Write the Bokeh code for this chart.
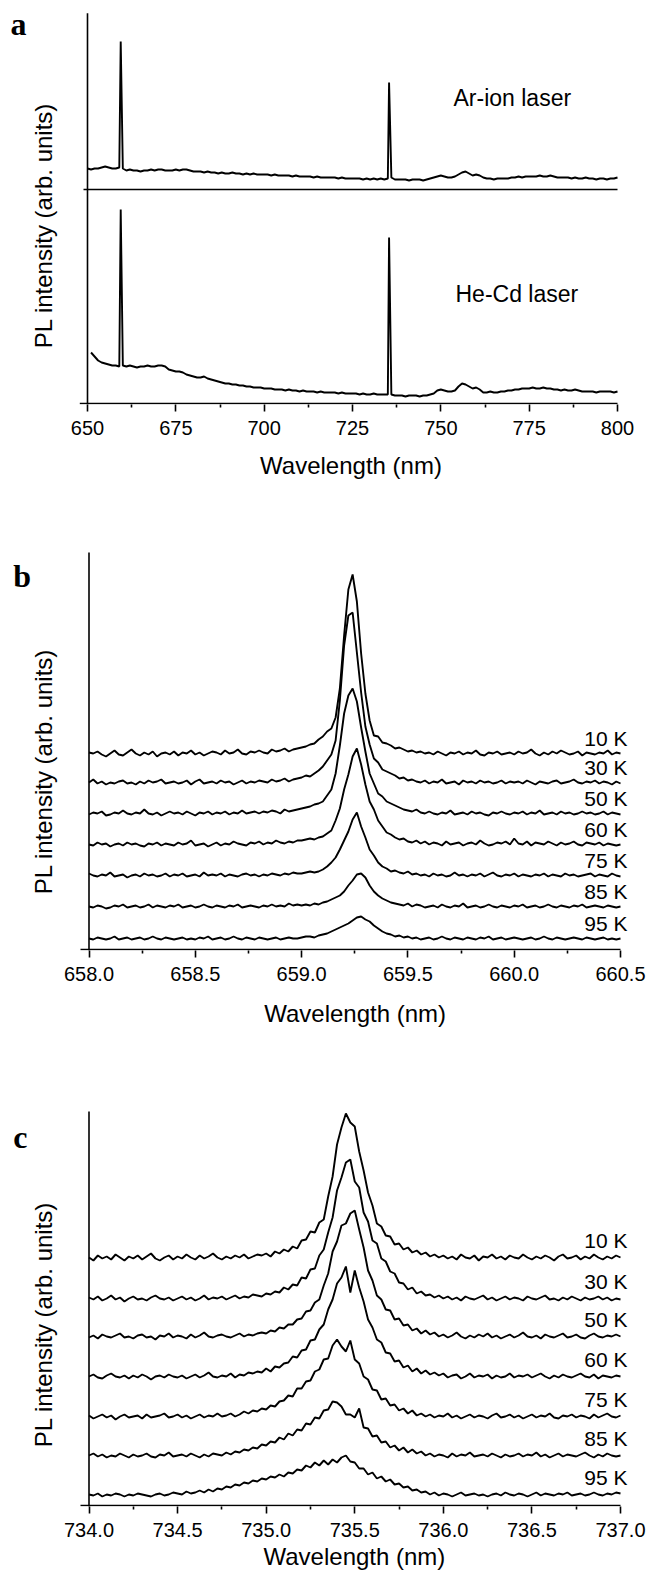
import numpy as np
from bokeh.plotting import figure
from bokeh.models import Range1d, FixedTicker, PrintfTickFormatter, Label, LabelSet, ColumnDataSource, Title
from bokeh.layouts import column
from bokeh.embed import file_html
from bokeh.resources import INLINE
from bokeh.core.properties import value

# ---------------- data: panel a ----------------
wl_a = [650 + i for i in range(10)] + [659.4] + [660 + i for i in range(76)] + [735.35] + [736 + i for i in range(65)]
ar_ion = [235, 234, 235, 235, 236, 237, 236, 235, 235, 236,
          362,
          235, 233, 234, 233, 233, 232, 233, 233, 234, 233,
          234, 234, 233, 233, 233, 234, 233, 234, 234, 233,
          232, 232, 232, 231, 232, 231, 231, 230, 231, 230,
          230, 231, 230, 230, 229, 230, 229, 230, 229, 229,
          229, 229, 228, 229, 228, 228, 228, 228, 227, 228,
          227, 227, 227, 227, 226, 227, 226, 226, 226, 226,
          226, 225, 226, 225, 225, 225, 225, 225, 224, 225,
          224, 225, 224, 225, 224, 225,
          321,
          226, 224, 224, 224, 224, 223, 224, 224, 224, 223,
          224, 225, 226, 227, 228, 227, 226, 226, 227, 229,
          231, 232, 230, 228, 229, 228, 226, 225, 225, 224,
          225, 225, 225, 225, 226, 226, 227, 226, 227, 227,
          227, 227, 228, 227, 227, 228, 227, 226, 226, 226,
          226, 225, 226, 225, 225, 226, 225, 225, 224, 225,
          225, 224, 225, 225, 226]
he_cd = [51, 47, 43, 41, 40, 39, 38, 38, 37,
         194,
         38, 37, 38, 37, 36, 37, 37, 38, 37, 37,
         38, 38, 37, 34, 33, 32, 32, 31, 29, 28,
         27, 26, 26, 27, 25, 24, 23, 22, 21, 20,
         20, 19, 19, 18, 18, 17, 17, 16, 16, 16,
         15, 15, 15, 14, 14, 14, 13, 14, 13, 13,
         12, 13, 12, 12, 12, 11, 12, 11, 11, 11,
         11, 10, 11, 10, 10, 10, 10, 9, 10, 9,
         9, 10, 9, 9, 9, 9,
         166,
         9, 8, 8, 8, 7, 8, 8, 8, 7, 8,
         8, 9, 10, 13, 14, 13, 12, 12, 13, 17,
         20, 19, 17, 15, 16, 14, 11, 11, 12, 11,
         11, 12, 12, 13, 13, 14, 14, 15, 15, 15,
         16, 15, 15, 16, 15, 15, 14, 14, 13, 14,
         13, 13, 14, 13, 12, 12, 12, 12, 11, 12,
         12, 12, 12, 11, 12]
a_ticks = [650, 675, 700, 725, 750, 775, 800]
a_minor = [662.5, 687.5, 712.5, 737.5, 762.5, 787.5]

# ---------------- data: panel b ----------------
temps = ["10 K", "30 K", "50 K", "60 K", "75 K", "85 K", "95 K"]
wl_b = [round(658.0 + 0.02 * i, 2) for i in range(126)]
b_10K = [2, 1, 3, 0, -2, 1, 4, 0, -1, 2,
         5, 1, -1, 2, 0, 3, -2, 1, 2, 0,
         3, -1, 2, 1, 4, 0, 2, -1, 1, 3,
         2, 0, 4, 1, 2, 5, 1, 0, 3, 2,
         4, 2, 1, 5, 3, 4, 6, 3, 5, 6,
         7, 8, 10, 11, 15, 18, 23, 26, 37, 66,
         119, 165, 180, 153, 101, 61, 34, 19, 18, 12,
         11, 9, 6, 7, 5, 3, 4, 2, 3, 1,
         2, 0, 3, 1, -1, 2, 1, 3, 0, 2,
         1, 4, 0, -1, 2, 1, 3, 0, 1, 2,
         0, 3, 1, 2, 5, 1, -1, 2, 0, 3,
         1, 4, 2, 0, 1, 3, -1, 2, 1, 0,
         2, 1, 4, 0, 2, 1]
b_30K = [1, 4, 0, 2, -1, 1, 0, 2, 3, 0,
         1, -1, 2, 0, 3, 1, 2, 4, 0, 1,
         2, 0, 1, 3, -1, 2, 4, 0, 1, 2,
         0, 3, 1, 2, -1, 1, 3, 0, 2, 1,
         3, 2, 1, 4, 2, 3, 5, 2, 4, 5,
         6, 8, 7, 10, 13, 17, 23, 29, 43, 83,
         138, 168, 171, 131, 91, 57, 39, 25, 21, 14,
         12, 10, 8, 5, 6, 3, 4, 2, 1, 3,
         0, 2, 1, 4, 0, 1, 2, -1, 3, 1,
         2, 0, 3, 1, 2, 0, 1, 3, 0, 2,
         1, 2, 0, 3, 1, -1, 2, 1, 0, 2,
         3, 0, 1, 2, 4, 1, 0, 2, 1, 3,
         0, 2, 1, -1, 2, 0]
b_50K = [0, 2, 1, 3, -1, 0, 2, 1, 4, 1,
         0, 2, 1, 5, 1, 0, 2, -1, 1, 3,
         1, 2, 0, 3, 1, -1, 2, 1, 3, 0,
         2, 1, 3, 0, 2, 1, 4, 1, 2, 3,
         1, 3, 2, 4, 3, 1, 5, 3, 4, 5,
         6, 7, 8, 10, 11, 13, 19, 25, 41, 69,
         101, 119, 126, 113, 87, 63, 41, 31, 21, 18,
         13, 11, 9, 7, 5, 4, 3, 5, 2, 1,
         3, 1, 0, 2, 1, 4, 0, 1, 2, 0,
         3, 1, 2, 0, -1, 2, 1, 3, 1, 0,
         2, 1, 3, 0, 2, 1, 4, 0, 1, 2,
         0, 3, 1, 2, 0, 1, 3, 1, 2, 0,
         1, 3, 0, 2, 1, 0]
b_60K = [1, 0, 3, 1, 2, -1, 1, 2, 0, 3,
         1, 2, 0, -1, 2, 1, 3, 0, 2, 1,
         0, 3, 1, 2, 5, 0, 1, 2, -1, 1,
         3, 0, 2, 1, 4, 2, 1, 0, 3, 2,
         4, 1, 3, 2, 5, 3, 2, 4, 3, 5,
         5, 6, 7, 6, 8, 9, 12, 15, 25, 37,
         56, 71, 89, 97, 81, 61, 44, 36, 25, 19,
         13, 11, 8, 6, 7, 4, 3, 5, 2, 4,
         1, 3, 2, 0, 4, 1, 2, 3, 0, 2,
         3, 1, 5, 2, 0, 1, 3, 2, 4, 1,
         7, 2, 1, 4, 0, 3, 2, 1, 4, 2,
         0, 3, 1, 2, 4, 1, 0, 3, 2, 1,
         3, 0, 2, 1, 0, 1]
b_75K = [3, 1, 0, 2, 1, 4, 0, 1, 2, -1,
         1, 2, 0, 3, 1, 2, 0, 1, 3, 0,
         2, 1, 3, 0, 1, 2, 0, 4, 1, 2,
         1, 3, 0, 2, 1, 0, 2, 3, 1, 2,
         0, 2, 1, 3, 2, 1, 3, 2, 4, 3,
         3, 4, 5, 4, 5, 7, 10, 14, 19, 27,
         36, 45, 57, 64, 50, 39, 27, 21, 14, 10,
         8, 5, 6, 4, 3, 5, 2, 3, 1, 2,
         0, 3, 1, 2, 0, 1, 4, 1, 2, 0,
         2, 1, 3, 0, 2, 4, 1, 0, 2, 1,
         3, 0, 2, 1, 0, 2, 1, 3, 0, 2,
         1, 0, 3, 1, 2, 0, 1, 2, 3, 0,
         2, 1, 0, 3, 1, 0]
b_85K = [1, 0, 2, 1, -1, 0, 2, 1, 3, 0,
         1, 2, 0, 1, 3, 0, 2, 1, 0, 2,
         1, 3, 0, 1, 2, 0, 1, 3, 1, 0,
         2, 1, 0, 2, 1, 3, 0, 1, 2, 1,
         0, 2, 1, 3, 1, 2, 1, 4, 2, 3,
         2, 3, 2, 4, 3, 5, 6, 8, 10, 12,
         16, 22, 27, 33, 34, 30, 22, 16, 12, 9,
         7, 5, 4, 3, 2, 4, 1, 3, 2, 0,
         1, 2, 0, 3, 1, 0, 2, 1, 4, 0,
         1, 2, 0, 1, 3, 1, 0, 2, 1, 0,
         2, 1, 3, 0, 1, 2, 0, 1, 3, 1,
         0, 2, 1, 0, 2, 1, 3, 0, 1, 2,
         1, 0, 2, 1, 0, 1]
b_95K = [1, 0, 2, 1, 0, 1, 3, 0, 1, 2,
         0, 1, 2, 0, 1, 3, 1, 0, 2, 1,
         0, 1, 2, 0, 1, 0, 2, 1, 3, 0,
         1, 2, 0, 1, 3, 1, 0, 2, 1, 0,
         2, 1, 0, 1, 2, 0, 1, 2, 1, 1,
         2, 3, 3, 2, 4, 5, 6, 8, 10, 12,
         14, 16, 19, 22, 23, 20, 18, 14, 11, 8,
         6, 5, 3, 4, 2, 3, 1, 2, 0, 1,
         2, 0, 1, 3, 1, 0, 2, 1, 0, 2,
         1, 0, 2, 1, 3, 0, 1, 2, 0, 1,
         2, 1, 0, 1, 2, 0, 1, 3, 1, 0,
         2, 1, 0, 1, 2, 1, 0, 2, 1, 0,
         1, 2, 0, 1, 0, 1]
b_offsets = [195, 166, 135, 104, 73, 42, 10]
b_ticks = [658.0, 658.5, 659.0, 659.5, 660.0, 660.5]
b_minor = [658.25, 658.75, 659.25, 659.75, 660.25]

# ---------------- data: panel c ----------------
wl_c = [round(734.0 + 0.025 * i, 3) for i in range(121)]
c_10K = [1, -2, 3, 0, 2, -1, 4, 1, -2, 2,
         0, 3, -1, 2, 5, 0, -2, 1, 3, -1,
         2, 0, 4, 1, -1, 3, 0, 2, 5, 1,
         -1, 2, 0, 3, 1, 4, 0, 2, 4, 3,
         5, 2, 7, 5, 9, 7, 12, 10, 18, 19,
         27, 26, 36, 39, 62, 82, 114, 131, 145, 136,
         132, 107, 88, 66, 53, 35, 32, 23, 22, 14,
         15, 9, 11, 6, 8, 4, 6, 2, 4, 1,
         3, 0, 2, -1, 4, 1, 0, 3, -2, 2,
         1, 4, 0, 2, -1, 3, 1, 0, 4, 1,
         -1, 2, 0, 3, 1, -2, 2, 4, 0, 1,
         3, -1, 2, 0, 4, 1, -1, 2, 0, 3,
         1]
c_30K = [2, 0, 3, -1, 1, 4, 0, 2, -2, 1,
         3, 0, 1, -1, 2, 4, 1, 0, 2, -1,
         1, 3, 0, 2, -1, 1, 4, 0, 2, 1,
         3, 0, 2, 4, 1, 3, 2, 5, 4, 3,
         6, 5, 8, 7, 12, 10, 15, 14, 22, 21,
         30, 31, 44, 50, 67, 82, 109, 122, 137, 140,
         118, 112, 87, 78, 59, 56, 41, 38, 28, 26,
         17, 16, 10, 12, 6, 8, 4, 5, 2, 4,
         1, 3, 0, 2, -1, 3, 1, 0, 2, 4,
         0, 2, -1, 1, 3, 0, 2, 1, -1, 3,
         1, 0, 2, 4, 0, 1, -1, 2, 0, 3,
         1, -1, 2, 0, 1, 3, 0, 2, -1, 1,
         0]
c_50K = [0, 2, -1, 3, 1, 0, 2, 4, 0, 1,
         -1, 2, 3, 0, 1, -2, 2, 1, 4, 0,
         2, 1, -1, 3, 0, 2, 5, 1, 0, 2,
         3, 1, 0, 2, 4, 1, 3, 2, 4, 5,
         4, 7, 6, 10, 9, 13, 13, 18, 19, 26,
         27, 35, 38, 52, 64, 86, 96, 112, 114, 124,
         127, 108, 90, 67, 57, 42, 38, 28, 27, 18,
         19, 12, 13, 7, 9, 4, 7, 3, 5, 1,
         3, 0, 2, 5, 1, -1, 2, 0, 3, 1,
         4, 0, 2, -1, 1, 3, 0, 2, 5, 1,
         0, 2, -1, 3, 1, 0, 2, 4, 0, 1,
         3, 0, -1, 2, 4, 1, 0, 2, 1, 3,
         1]
c_60K = [1, 3, 0, -1, 2, 4, 1, 0, 2, -1,
         2, 0, 3, 1, -2, 1, 2, 0, 3, 1,
         0, 2, -1, 1, 3, 0, 2, 5, 1, 0,
         2, 1, 4, 0, 3, 2, 5, 4, 6, 5,
         9, 6, 11, 10, 14, 15, 21, 20, 27, 28,
         37, 38, 48, 53, 68, 78, 94, 100, 111, 85,
         107, 90, 76, 58, 50, 38, 35, 25, 24, 16,
         17, 10, 12, 6, 9, 4, 7, 3, 5, 2,
         4, 0, 2, 3, -1, 1, 4, 0, 2, 1,
         3, -1, 2, 0, 1, 4, 0, 2, 1, 3,
         0, 2, 4, 1, -1, 2, 0, 3, 1, 0,
         2, 4, 1, 0, 3, -1, 2, 1, 0, 2,
         1]
c_75K = [2, -1, 1, 3, 0, 2, -2, 1, 3, 0,
         1, 2, -1, 3, 0, 1, 2, 4, 0, 1,
         3, 0, 2, -1, 1, 3, 0, 2, 1, 4,
         1, 2, 4, 1, 3, 6, 4, 7, 6, 9,
         8, 12, 11, 16, 17, 22, 21, 29, 29, 36,
         37, 46, 48, 58, 59, 72, 78, 71, 66, 77,
         58, 54, 41, 38, 28, 27, 18, 19, 12, 13,
         7, 9, 4, 7, 2, 4, 1, 3, 0, 2,
         1, 4, 0, 2, -1, 1, 3, 0, 2, 1,
         -1, 2, 4, 0, 1, 3, 0, 2, -1, 1,
         3, 0, 2, 1, 4, 0, -1, 2, 1, 3,
         0, 2, 1, -1, 3, 0, 2, 4, 1, 0,
         2]
c_85K = [1, 3, 0, 2, -1, 1, 0, 3, 1, -1,
         2, 0, 1, 3, 0, -1, 2, 1, 4, 0,
         1, 2, 0, 3, 1, -1, 2, 0, 3, 2,
         1, 4, 2, 5, 4, 7, 6, 9, 8, 12,
         11, 15, 14, 19, 17, 23, 21, 27, 26, 33,
         32, 39, 38, 46, 47, 55, 54, 50, 42, 42,
         39, 48, 29, 28, 20, 21, 14, 15, 9, 11,
         6, 9, 4, 7, 3, 5, 1, 3, 0, 2,
         1, -1, 3, 0, 2, 1, 4, 0, 1, 2,
         0, 3, 1, -1, 2, 0, 1, 3, 0, 2,
         1, 4, 0, 2, -1, 1, 3, 0, 2, 1,
         0, 2, 4, 1, -1, 2, 0, 3, 1, 0,
         1]
c_95K = [1, 0, 2, -1, 1, 0, 2, 1, -1, 1,
         0, 2, 1, 0, -1, 1, 2, 0, 1, 3,
         2, 1, 4, 2, 3, 5, 3, 6, 4, 7,
         6, 9, 8, 11, 10, 13, 12, 15, 14, 17,
         16, 19, 18, 21, 19, 23, 22, 26, 25, 30,
         28, 33, 30, 35, 31, 36, 33, 38, 40, 34,
         33, 27, 27, 21, 23, 17, 19, 14, 16, 11,
         12, 8, 9, 5, 6, 3, 4, 1, 3, 0,
         2, 1, -1, 1, 3, 0, 1, 2, 0, 1,
         -1, 1, 2, 0, 3, 1, 0, 2, 1, -1,
         1, 3, 0, 2, 1, 0, 2, 1, 3, 0,
         1, 2, 0, 1, 3, 1, 0, 2, 1, 3,
         2]
c_offsets = [247, 206, 168, 128, 88, 49, 10]
c_ticks = [734.0, 734.5, 735.0, 735.5, 736.0, 736.5, 737.0]
c_minor = [734.25, 734.75, 735.25, 735.75, 736.25, 736.75]

# ---------------- layout geometry (page pixels) ----------------
W = 665
SANS = "Liberation Sans"
SERIF = "Liberation Serif"
LW = 1.9


class Geo:
    """Maps page pixels to data coordinates for one figure whose frame spans the full width."""

    def __init__(self, x_at_axis, px_at_axis, px_per_unit, axis_py):
        self.s = x_at_axis - px_at_axis / px_per_unit
        self.k = px_per_unit
        self.axis_py = axis_py

    def x(self, px):
        return self.s + px / self.k

    def y(self, py):
        return self.axis_py - py

    def xrange(self):
        return Range1d(self.s, self.s + W / self.k)


def make_fig(geo, height, frame_top_py, bottom_border, ticks, minor, fmt):
    p = figure(width=W, height=height, x_range=geo.xrange(),
               y_range=Range1d(-1, geo.y(frame_top_py)),
               y_axis_location=None, toolbar_location=None, output_backend="svg", title=None,
               min_border_top=0, min_border_bottom=bottom_border, min_border_left=0,
               min_border_right=0)
    p.outline_line_color = None
    p.grid.visible = False
    p.background_fill_color = "white"
    p.border_fill_color = "white"
    ax = p.xaxis[0]
    ax.ticker = FixedTicker(ticks=ticks, minor_ticks=minor)
    if fmt:
        ax.formatter = PrintfTickFormatter(format=fmt)
    ax.axis_line_color = None
    ax.major_tick_in = 0
    ax.major_tick_out = 7
    ax.minor_tick_in = 0
    ax.minor_tick_out = 3
    ax.major_tick_line_width = 1.6
    ax.minor_tick_line_width = 1.6
    ax.major_tick_line_color = "black"
    ax.minor_tick_line_color = "black"
    ax.major_label_text_font = SANS
    ax.major_label_text_font_size = "20px"
    ax.major_label_text_color = "black"
    ax.major_label_standoff = 9
    return p


def add_text(p, x, y, text, size, font=SANS, style="normal", angle=0.0,
             align="left", baseline="middle"):
    p.add_layout(Label(x=x, y=y, text=text, text_font=font, text_font_size=size,
                       text_font_style=style, angle=angle, text_align=align,
                       text_baseline=baseline, text_color="black"))


# figure a: page y 0..448, frame 0..404 (x axis at py 403)
ga = Geo(650, 87, 530 / 150, 403)
# figure b: page y 448..994, frame 448..950 (x axis at py 949)
gb = Geo(658.0, 88.5, 531.5 / 2.5, 949)
# figure c: page y 994..1578, frame 994..1506 (x axis at py 1505)
gc = Geo(734.0, 88.5, 531.5 / 3.0, 1505)

# ---------------- panel a ----------------
pa = make_fig(ga, 448, 0, 44, a_ticks, a_minor, None)
pa.segment(x0=[650], y0=[-1], x1=[650], y1=[ga.y(12.7)], line_color="black", line_width=1.6)
pa.segment(x0=[ga.x(79.3)], y0=[0], x1=[800], y1=[0], line_color="black", line_width=1.6)
pa.segment(x0=[ga.x(83)], y0=[ga.y(189)], x1=[800], y1=[ga.y(189)], line_color="black", line_width=1.6)
pa.line(wl_a, ar_ion, line_color="black", line_width=LW)
pa.line(wl_a[1:], he_cd, line_color="black", line_width=LW)
add_text(pa, ga.x(453), ga.y(97), "Ar-ion laser", "23px")
add_text(pa, ga.x(455), ga.y(293), "He-Cd laser", "23px")
add_text(pa, ga.x(42.5), ga.y(225), "PL intensity (arb. units)", "24px", angle=np.pi / 2, align="center")
add_text(pa, ga.x(10), ga.y(23), "a", "32px", font=SERIF, style="bold", baseline="alphabetic")


def stacked(p, geo, wl, traces, offsets, x_first, x_last, lab_dy, top_py, ylab_py, letter_py, letter):
    p.segment(x0=[x_first], y0=[-1], x1=[x_first], y1=[geo.y(top_py)], line_color="black", line_width=1.6)
    p.segment(x0=[geo.x(80)], y0=[0], x1=[x_last], y1=[0], line_color="black", line_width=1.6)
    for tr, off in zip(traces, offsets):
        p.line(wl, np.array(tr) + off, line_color="black", line_width=LW)
    src = ColumnDataSource(dict(x=[geo.x(627)] * len(temps), y=[o + lab_dy for o in offsets], text=temps))
    p.add_layout(LabelSet(source=src, x="x", y="y", text="text",
                          text_align="right", text_baseline="middle",
                          text_font=value(SANS), text_font_size="21px", text_color="black"))
    add_text(p, geo.x(42.5), geo.y(ylab_py), "PL intensity (arb. units)", "24px", angle=np.pi / 2, align="center")
    add_text(p, geo.x(12.7), geo.y(letter_py), letter, "32px", font=SERIF, style="bold", baseline="alphabetic")


# ---------------- panel b ----------------
pb = make_fig(gb, 546, 448, 44, b_ticks, b_minor, "%.1f")
stacked(pb, gb, wl_b, [b_10K, b_30K, b_50K, b_60K, b_75K, b_85K, b_95K], b_offsets,
        658.0, 660.5, 16, 552, 771, 575, "b")
# x-axis title of panel a sits just above panel b's plot area
add_text(pb, gb.x(350.5), gb.y(465), "Wavelength (nm)", "24px", align="center")

# ---------------- panel c ----------------
pc = make_fig(gc, 584, 994, 72, c_ticks, c_minor, "%.1f")
stacked(pc, gc, wl_c, [c_10K, c_30K, c_50K, c_60K, c_75K, c_85K, c_95K], c_offsets,
        734.0, 737.0, 18, 1111, 1324, 1136, "c")
add_text(pc, gc.x(354.6), gc.y(1013), "Wavelength (nm)", "24px", align="center")
pc.add_layout(Title(text="Wavelength (nm)", align="left", offset=263, standoff=2,
                    text_font=SANS, text_font_size="24px", text_font_style="normal",
                    text_color="black", vertical_align="bottom"), "below")

layout = column(pa, pb, pc, spacing=0)
open("out.html", "w").write(file_html(layout, INLINE, "PL spectra"))
